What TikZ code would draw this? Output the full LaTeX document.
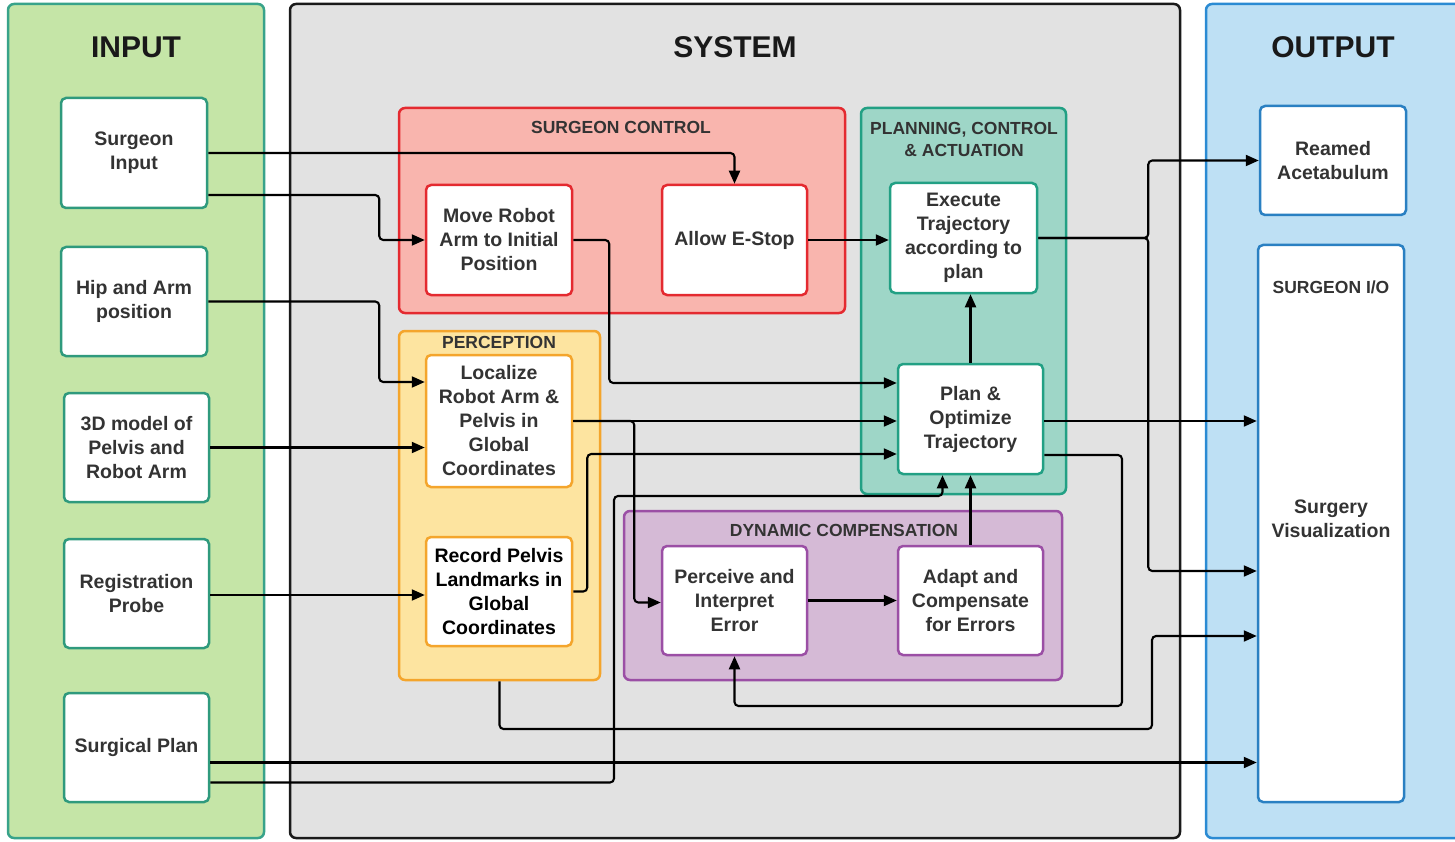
\documentclass[tikz,border=0pt]{standalone}
\usepackage{fontspec}
\setmainfont{Liberation Sans}
\usetikzlibrary{arrows.meta,calc}
\definecolor{infill}{HTML}{C5E5A7}
\definecolor{indraw}{HTML}{38A38A}
\definecolor{inbox}{HTML}{2F9A7D}
\definecolor{sysfill}{HTML}{E2E2E2}
\definecolor{sysdraw}{HTML}{1A1A1A}
\definecolor{outfill}{HTML}{BEE0F4}
\definecolor{outdraw}{HTML}{2B8BD3}
\definecolor{outbox}{HTML}{2A80C2}
\definecolor{scfill}{HTML}{F9B5AE}
\definecolor{scdraw}{HTML}{E42A30}
\definecolor{pcfill}{HTML}{FDE4A0}
\definecolor{pcdraw}{HTML}{F4A52C}
\definecolor{plfill}{HTML}{9ED6C7}
\definecolor{pldraw}{HTML}{22A084}
\definecolor{dcfill}{HTML}{D5BAD6}
\definecolor{dcdraw}{HTML}{9B4FA5}
\definecolor{txt}{HTML}{333333}
\newcommand{\boxfont}{\fontsize{19.5}{24}\selectfont\bfseries}
\newcommand{\subfont}{\fontsize{17.5}{22}\selectfont\bfseries}
\newcommand{\bigfont}{\fontsize{30}{34}\selectfont\bfseries}
\tikzset{
  panel/.style={line width=2.5pt, rounded corners=6pt, inner sep=0pt},
  sz/.style 2 args={minimum width=#1pt, minimum height=#2pt},
  box/.style={draw, fill=white, line width=2.5pt, rounded corners=5pt, align=center,
              inner sep=0pt, font=\boxfont, text=txt},
  arr/.style={line width=2.1pt, rounded corners=4pt, -{Triangle[length=13pt,width=11pt]}},
  ptitle/.style={font=\subfont, text=txt, align=center, inner sep=0pt},
  btitle/.style={font=\bigfont, text=black!90, inner sep=0pt},
}
\begin{document}
\begin{tikzpicture}[x=1pt,y=-1pt]
\useasboundingbox[fill=white] (0,0) rectangle (1455,842);
% big panels
\node[panel, draw=indraw, fill=infill, sz={256}{834}] (inp) at (136,421) {};
\node[panel, draw=sysdraw, fill=sysfill, sz={890}{834}] (sys) at (735,421) {};
\node[panel, draw=outdraw, fill=outfill, sz={262}{834}] (outp) at (1337,421) {};
\node[btitle] (tin) at (136,47) {INPUT};
\node[btitle] (tsys) at (735,47) {SYSTEM};
\node[btitle] (tout) at (1333,47) {OUTPUT};
% sub panels
\node[panel, draw=scdraw, fill=scfill, sz={446}{205}] (sc) at (622,210.5) {};
\node[panel, draw=pcdraw, fill=pcfill, sz={201}{349}] (perc) at (499.5,505.5) {};
\node[panel, draw=pldraw, fill=plfill, sz={205}{386}] (plan) at (963.5,301) {};
\node[panel, draw=dcdraw, fill=dcfill, sz={438}{169}] (dyn) at (843,595.5) {};
\node[ptitle] (tsc) at (621,127) {SURGEON CONTROL};
\node[ptitle] (tpc) at (499,342) {PERCEPTION};
\node[ptitle] (tpl) at (964,139) {PLANNING, CONTROL\\\& ACTUATION};
\node[ptitle] (tdc) at (844,530) {DYNAMIC COMPENSATION};
% boxes
\node[box, draw=inbox, sz={146}{110}] (si) at (134,153) {Surgeon\\Input};
\node[box, draw=inbox, sz={146}{109}] (hip) at (134,301.5) {Hip and Arm\\position};
\node[box, draw=inbox, sz={145}{109}] (m3d) at (136.5,447.5) {3D model of\\Pelvis and\\Robot Arm};
\node[box, draw=inbox, sz={145}{109}] (reg) at (136.5,593.5) {Registration\\Probe};
\node[box, draw=inbox, sz={145}{109}] (sp) at (136.5,747.5) {Surgical Plan};
\node[box, draw=scdraw, sz={146}{110}] (mr) at (499,240) {Move Robot\\Arm to Initial\\Position};
\node[box, draw=scdraw, sz={145}{110}] (es) at (734.5,240) {Allow E-Stop};
\node[box, draw=pcdraw, sz={146}{132}] (loc) at (499,421) {Localize\\Robot Arm \&\\Pelvis in\\Global\\Coordinates};
\node[box, draw=pcdraw, sz={146}{109}, text=black] (rec) at (499,591.5) {Record Pelvis\\Landmarks in\\Global\\Coordinates};
\node[box, draw=pldraw, sz={147}{110}] (ex) at (963.5,238) {Execute\\Trajectory\\according to\\plan};
\node[box, draw=pldraw, sz={145}{110}] (po) at (970.5,419) {Plan \&\\Optimize\\Trajectory};
\node[box, draw=dcdraw, sz={145}{109}] (pe) at (734.5,600.5) {Perceive and\\Interpret\\Error};
\node[box, draw=dcdraw, sz={145}{109}] (ad) at (970.5,600.5) {Adapt and\\Compensate\\for Errors};
\node[box, draw=outbox, sz={146}{109}] (ra) at (1333,160.5) {Reamed\\Acetabulum};
\node[box, draw=outbox, sz={146}{557}] (sio) at (1331,523.5) {};
\node[ptitle] (tsio) at (1331,287) {SURGEON I/O};
\node[box, draw=none, fill=none] (sv) at (1331,519) {Surgery\\Visualization};
% connectors
\draw[arr] (si.east) -| (es.north);
\draw[arr] ([yshift=-42pt]si.east) -- ++(171,0) |- (mr.west);
\draw[arr] (hip.east) -- ++(171,0) |- ([yshift=39pt]loc.west);
\draw[arr] (m3d.east) -- (m3d.east -| loc.west);
\draw[arr] ([yshift=-1.5pt]reg.east) -- ([yshift=-1.5pt]reg.east -| rec.west);
\draw[arr] ([yshift=-15pt]sp.east) -- ([yshift=-15pt]sp.east -| sio.west);
\draw[arr] ([yshift=-35pt]sp.east) -| (614,496) -| ([xshift=-28pt]po.south);
\draw[arr] (mr.east) -- ++(36,0) |- ([yshift=36pt]po.west);
\draw[arr] (es.east) -- (es.east -| ex.west);
\draw[arr] (loc.east) -- (loc.east -| po.west);
\draw[arr] (loc.east) -- ++(61,0) |- ([yshift=-2pt]pe.west);
\draw[arr] (rec.east) -- ++(14,0) |- ([yshift=-35pt]po.west);
\draw[arr] (po.north) -- (po.north |- ex.south);
\draw[arr] (ad.north) -- (po.south);
\draw[arr] (pe.east) -- (ad.west);
\draw[arr] (ex.east) -- ++(110,0) |- (ra.west);
\draw[arr] (ex.east) -- ++(110,0) |- ([yshift=-47.5pt]sio.west);
\draw[arr] ([yshift=-2pt]po.east) -- ([yshift=-2pt]po.east -| sio.west);
\draw[arr] ([yshift=-36pt]po.east) -| (1122,706) -| (pe.south);
\draw[arr] (perc.south) |- (1152,729) |- ([yshift=-112.5pt]sio.west);
\end{tikzpicture}
\end{document}
